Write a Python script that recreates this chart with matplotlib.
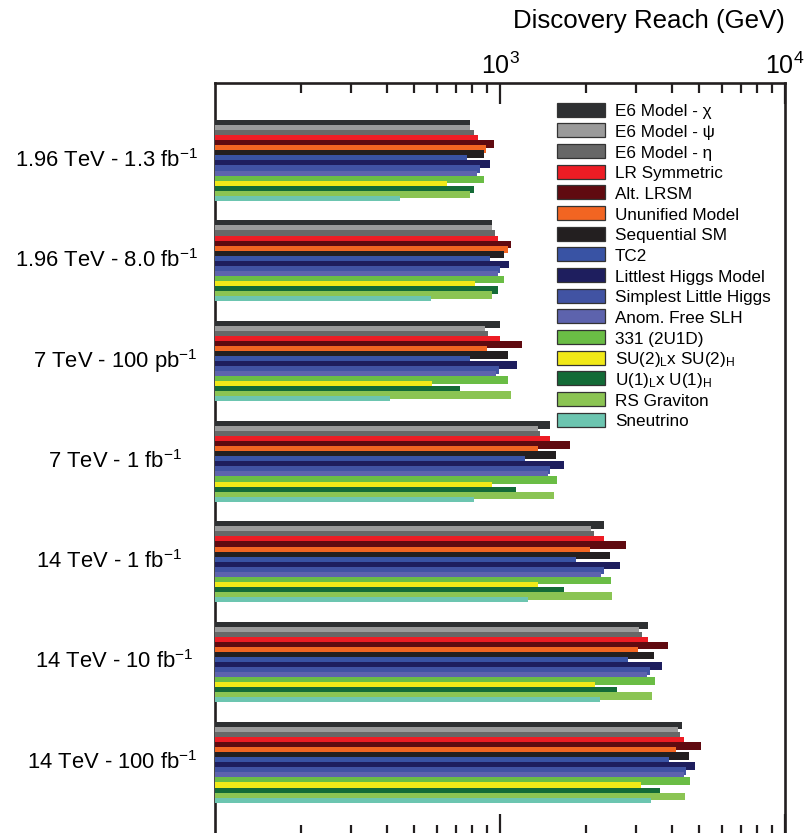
import numpy as np
import matplotlib.pyplot as plt
from matplotlib.patches import Rectangle
from matplotlib.ticker import FixedLocator, NullFormatter, LogFormatterSciNotation

plt.rcParams['font.family'] = ['Liberation Sans', 'DejaVu Sans']
plt.rcParams['mathtext.fontset'] = 'custom'
plt.rcParams['mathtext.rm'] = 'Liberation Sans'
plt.rcParams['mathtext.it'] = 'Liberation Sans:italic'

# collider scenarios (top to bottom)
scenarios = ['1.96 TeV - 1.3 fb$^{-1}$', '1.96 TeV - 8.0 fb$^{-1}$', '7 TeV - 100 pb$^{-1}$',
             '7 TeV - 1 fb$^{-1}$', '14 TeV - 1 fb$^{-1}$', '14 TeV - 10 fb$^{-1}$',
             '14 TeV - 100 fb$^{-1}$']

models = ['E6 Model - χ', 'E6 Model - ψ', 'E6 Model - η', 'LR Symmetric', 'Alt. LRSM',
          'Ununified Model', 'Sequential SM', 'TC2', 'Littlest Higgs Model',
          'Simplest Little Higgs', 'Anom. Free SLH', '331 (2U1D)',
          'SU(2)$_\\mathrm{L}$x SU(2)$_\\mathrm{H}$', 'U(1)$_\\mathrm{L}$x U(1)$_\\mathrm{H}$',
          'RS Graviton', 'Sneutrino']

colors = ['#2e3032', '#9a9a9a', '#676767', '#ed1c24', '#600a10', '#f26522', '#231f20',
          '#3953a4', '#1e1e5e', '#4153a3', '#5d63ad', '#6abd45', '#f1e918', '#136b37',
          '#8bc453', '#6cc5b0']

# discovery reach in GeV, one list per model, values for each scenario
e6_chi    = [785, 937, 1000, 1498, 2317, 3306, 4350]
e6_psi    = [785, 937, 886, 1359, 2086, 3074, 4212]
e6_eta    = [810, 960, 908, 1382, 2137, 3150, 4281]
lr_sym    = [837, 984, 1000, 1498, 2317, 3306, 4421]
alt_lrsm  = [953, 1093, 1195, 1760, 2767, 3886, 5074]
ununified = [893, 1067, 900, 1359, 2069, 3049, 4144]
ssm       = [879, 1033, 1067, 1572, 2432, 3471, 4604]
tc2       = [766, 922, 785, 1224, 1848, 2813, 3918]
littlest  = [922, 1075, 1147, 1677, 2636, 3702, 4833]
simplest  = [851, 1000, 992, 1498, 2317, 3360, 4495]
anom_slh  = [830, 984, 968, 1474, 2262, 3280, 4421]
m331      = [879, 1033, 1067, 1585, 2452, 3499, 4642]
su2su2    = [652, 817, 577, 937, 1359, 2154, 3124]
u1u1      = [810, 984, 724, 1138, 1677, 2573, 3642]
rs_grav   = [785, 937, 1093, 1547, 2472, 3415, 4458]
sneutrino = [446, 573, 411, 810, 1254, 2243, 3387]

reach = [e6_chi, e6_psi, e6_eta, lr_sym, alt_lrsm, ununified, ssm, tc2, littlest,
         simplest, anom_slh, m331, su2su2, u1u1, rs_grav, sneutrino]

W, H = 811, 833
fig = plt.figure(figsize=(W / 100, H / 100), dpi=100)
ax = fig.add_axes([215 / W, -2 / H, 570 / W, (833 - 83 + 2) / H])

bh = 0.0503
g = np.arange(len(scenarios))
for j, vals in enumerate(reach):
    # bars overlap the next one slightly so no white seams show
    hh = bh if j == len(reach) - 1 else bh * 1.5
    ax.barh(g + (j - 8) * bh, np.array(vals) - 100, left=100, height=hh, align='edge',
            color=colors[j], linewidth=0, zorder=3)

ax.set_xscale('log')
ax.set_xlim(100, 10000)
ax.set_ylim(6.725, -0.772)

ax.xaxis.set_major_locator(FixedLocator([1000, 10000]))
ax.xaxis.set_major_formatter(LogFormatterSciNotation())
minor = [m * 10 ** e for e in (2, 3) for m in range(2, 10)]
ax.xaxis.set_minor_locator(FixedLocator(minor))
ax.xaxis.set_minor_formatter(NullFormatter())
ax.tick_params(axis='x', which='both', direction='in', top=True, bottom=True,
               labeltop=True, labelbottom=False, color='#231f20', width=1.6)
ax.tick_params(axis='x', which='major', length=15, labelsize=18, pad=3)
ax.tick_params(axis='x', which='minor', length=7.5)

# scenario labels, right edges as placed in the original figure (pixels)
label_right = [198, 198, 197, 182, 182, 193, 198]
ax.set_yticks([])
for i, lab in enumerate(scenarios):
    y = ax.transData.transform((100, g[i]))[1]
    fig.text(label_right[i] / W, y / H, lab, ha='right', va='center', fontsize=15.8)

for s in ax.spines.values():
    s.set_linewidth(1.9)
    s.set_color('#231f20')

fig.text(785 / W, 1 - 21 / H, 'Discovery Reach (GeV)', ha='right', va='center', fontsize=18.6)

# legend drawn as boxes and labels in figure pixels
for i, (lab, c) in enumerate(zip(models, colors)):
    yc = 109.7 + i * 20.67
    fig.patches.append(Rectangle((557 / W, 1 - (yc + 7) / H), 48 / W, 14 / H,
                                 transform=fig.transFigure, facecolor=c,
                                 edgecolor='#333333', linewidth=0.9))
    fig.text(615 / W, 1 - (yc + 6.5) / H, lab, ha='left', va='baseline', fontsize=12.3)

fig.savefig('out.png', dpi=100)
